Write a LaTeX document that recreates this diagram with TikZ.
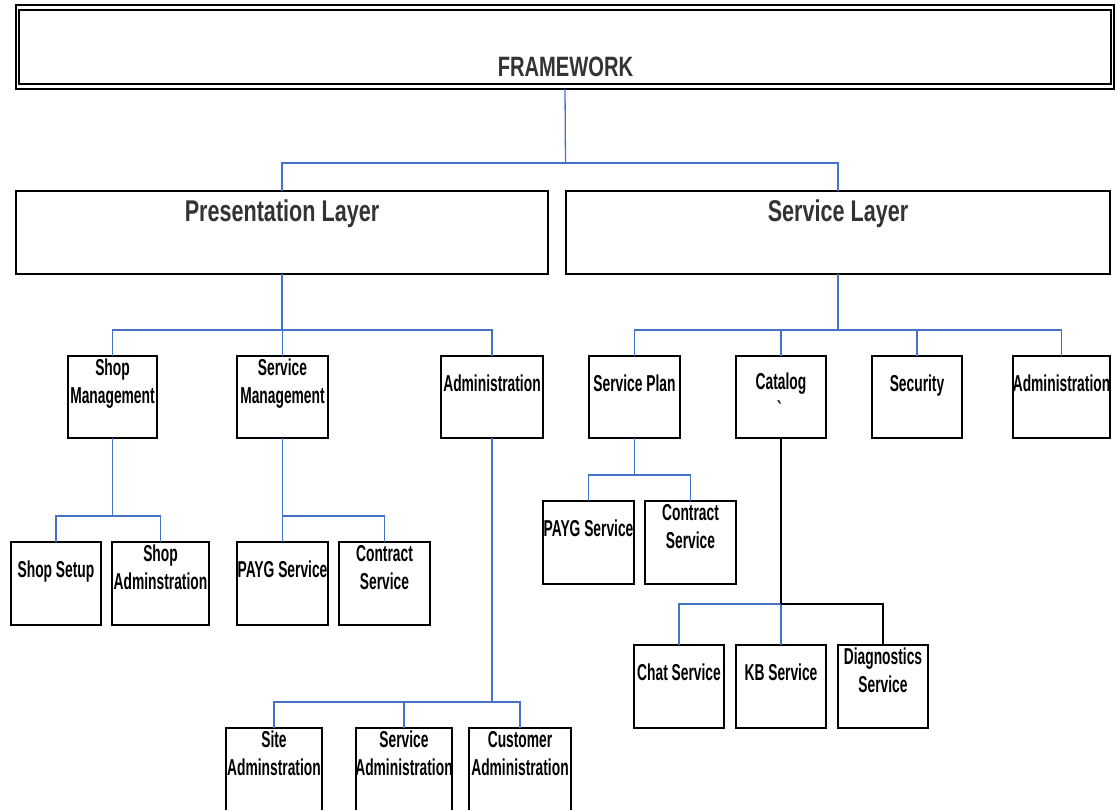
\documentclass[tikz,border=0pt]{standalone}
\usepackage{fontspec}
\newfontfamily\bodyf{Liberation Sans}[FakeStretch=0.6]
\newfontfamily\headf{Liberation Sans}[FakeStretch=0.72]
\definecolor{connblue}{HTML}{4472C4}
\definecolor{headc}{HTML}{333333}
\newcommand\mkbox[6]{%
  \node[box,minimum width={(#3-#2)*1pt},minimum height={(#5-#4)*1pt}] (#1) at ({(#2+#3)/2},{(#4+#5)/2}) {};
  \node[txt] (#1t) at ([yshift=-29.6pt]#1.north) {#6};}
\begin{document}
\begin{tikzpicture}[x=1pt,y=-1pt,
  box/.style={draw=black,line width=1.3pt,rectangle,inner sep=0pt,outer sep=0pt},
  txt/.style={inner sep=0pt,align=center,font=\bodyf\bfseries\fontsize{23}{28}\selectfont,execute at begin node=\strut,execute at end node=\strut},
  head/.style={inner sep=0pt,anchor=base,text=headc},
  conn/.style={draw=connblue,line width=1.3pt},
  connk/.style={draw=black,line width=1.3pt}]
\useasboundingbox (0,0) rectangle (1117,810);
% framework
\node[box,line width=1.2pt,minimum width=1098pt,minimum height=84pt] (fw) at (565,47) {};
\draw[line width=2pt] ([xshift=3pt,yshift=-5pt]fw.north west) rectangle ([xshift=-3pt,yshift=5pt]fw.south east);
\node[head,font=\headf\bfseries\fontsize{28}{34}\selectfont] (fwt) at (565.5,77) {FRAMEWORK};
% layers
\node[box,minimum width=532pt,minimum height=83pt] (pl) at (282,232.5) {};
\node[head,font=\headf\bfseries\fontsize{30}{36}\selectfont] (plt) at (282,222) {Presentation Layer};
\node[box,minimum width=544pt,minimum height=83pt] (sl) at (838,232.5) {};
\node[head,font=\headf\bfseries\fontsize{30}{36}\selectfont] (slt) at (838,222) {Service Layer};
% level 2
\mkbox{sm}{68}{157}{356}{438}{Shop\\Management}
\mkbox{svm}{237}{328}{356}{438}{Service\\Management}
\mkbox{ad1}{441}{543}{356}{438}{Administration}
\mkbox{sp}{589}{680}{356}{438}{Service Plan}
\node[box,minimum width=90pt,minimum height=82pt] (cat) at (781,397) {};
\node[txt] (catt) at ([yshift=-43.6pt]cat.north) {Catalog\\\textasciigrave};
\mkbox{sec}{872}{962}{356}{438}{Security}
\mkbox{ad2}{1013}{1110}{356}{438}{Administration}
% level 3
\mkbox{ss}{11}{101}{542}{625}{Shop Setup}
\mkbox{sa}{112}{209}{542}{625}{Shop\\Adminstration}
\mkbox{pg1}{237}{328}{542}{625}{PAYG Service}
\mkbox{cs1}{339}{430}{542}{625}{Contract\\Service}
\mkbox{pg2}{543}{634}{501}{584}{PAYG Service}
\mkbox{cs2}{645}{736}{501}{584}{Contract\\Service}
\mkbox{chat}{634}{724}{645}{728}{Chat Service}
\mkbox{kb}{736}{826}{645}{728}{KB Service}
\mkbox{diag}{838}{928}{645}{728}{Diagnostics\\Service}
\mkbox{site}{226}{322}{728}{816}{Site\\Adminstration}
\mkbox{sadm}{356}{452}{728}{816}{Service\\Administration}
\mkbox{cadm}{469}{571}{728}{816}{Customer\\Administration}
% connectors
\coordinate (b0) at (565.5,163);
\draw[conn] (fw.south) -- (b0);
\draw[conn] (pl.north) |- (b0) -| (sl.north);
\path (pl.south) ++(0,56) coordinate (b1);
\draw[conn] (pl.south) -- (b1);
\draw[conn] (b1) -| (sm.north);
\draw[conn] (b1) -| (svm.north);
\draw[conn] (b1) -| (ad1.north);
\path (sl.south) ++(0,56) coordinate (b2);
\draw[conn] (sl.south) -- (b2);
\draw[conn] (b2) -| (sp.north);
\draw[conn] (b2) -| (cat.north);
\draw[conn] (b2) -| (sec.north);
\draw[conn] (b2) -| (ad2.north);
\path (sm.south) ++(0,78) coordinate (b3);
\draw[conn] (sm.south) -- (b3);
\draw[conn] (b3) -| (ss.north);
\draw[conn] (b3) -| (sa.north);
\path (svm.south) ++(0,78) coordinate (b4);
\draw[conn] (svm.south) -- (b4);
\draw[conn] (b4) -| (pg1.north);
\draw[conn] (b4) -| (cs1.north);
\path (sp.south) ++(0,37) coordinate (b5);
\draw[conn] (sp.south) -- (b5);
\draw[conn] (b5) -| (pg2.north);
\draw[conn] (b5) -| (cs2.north);
\path (cat.south) ++(0,166) coordinate (b6);
\draw[conn] (b6) -| (chat.north);
\draw[conn] (b6) -| (kb.north);
\draw[connk] (cat.south) -- (b6);
\draw[connk] (b6) -| (diag.north);
\path (ad1.south) ++(0,264) coordinate (b7);
\draw[conn] (ad1.south) -- (b7);
\draw[conn] (b7) -| (site.north);
\draw[conn] (b7) -| (sadm.north);
\draw[conn] (b7) -| (cadm.north);
\end{tikzpicture}
\end{document}
